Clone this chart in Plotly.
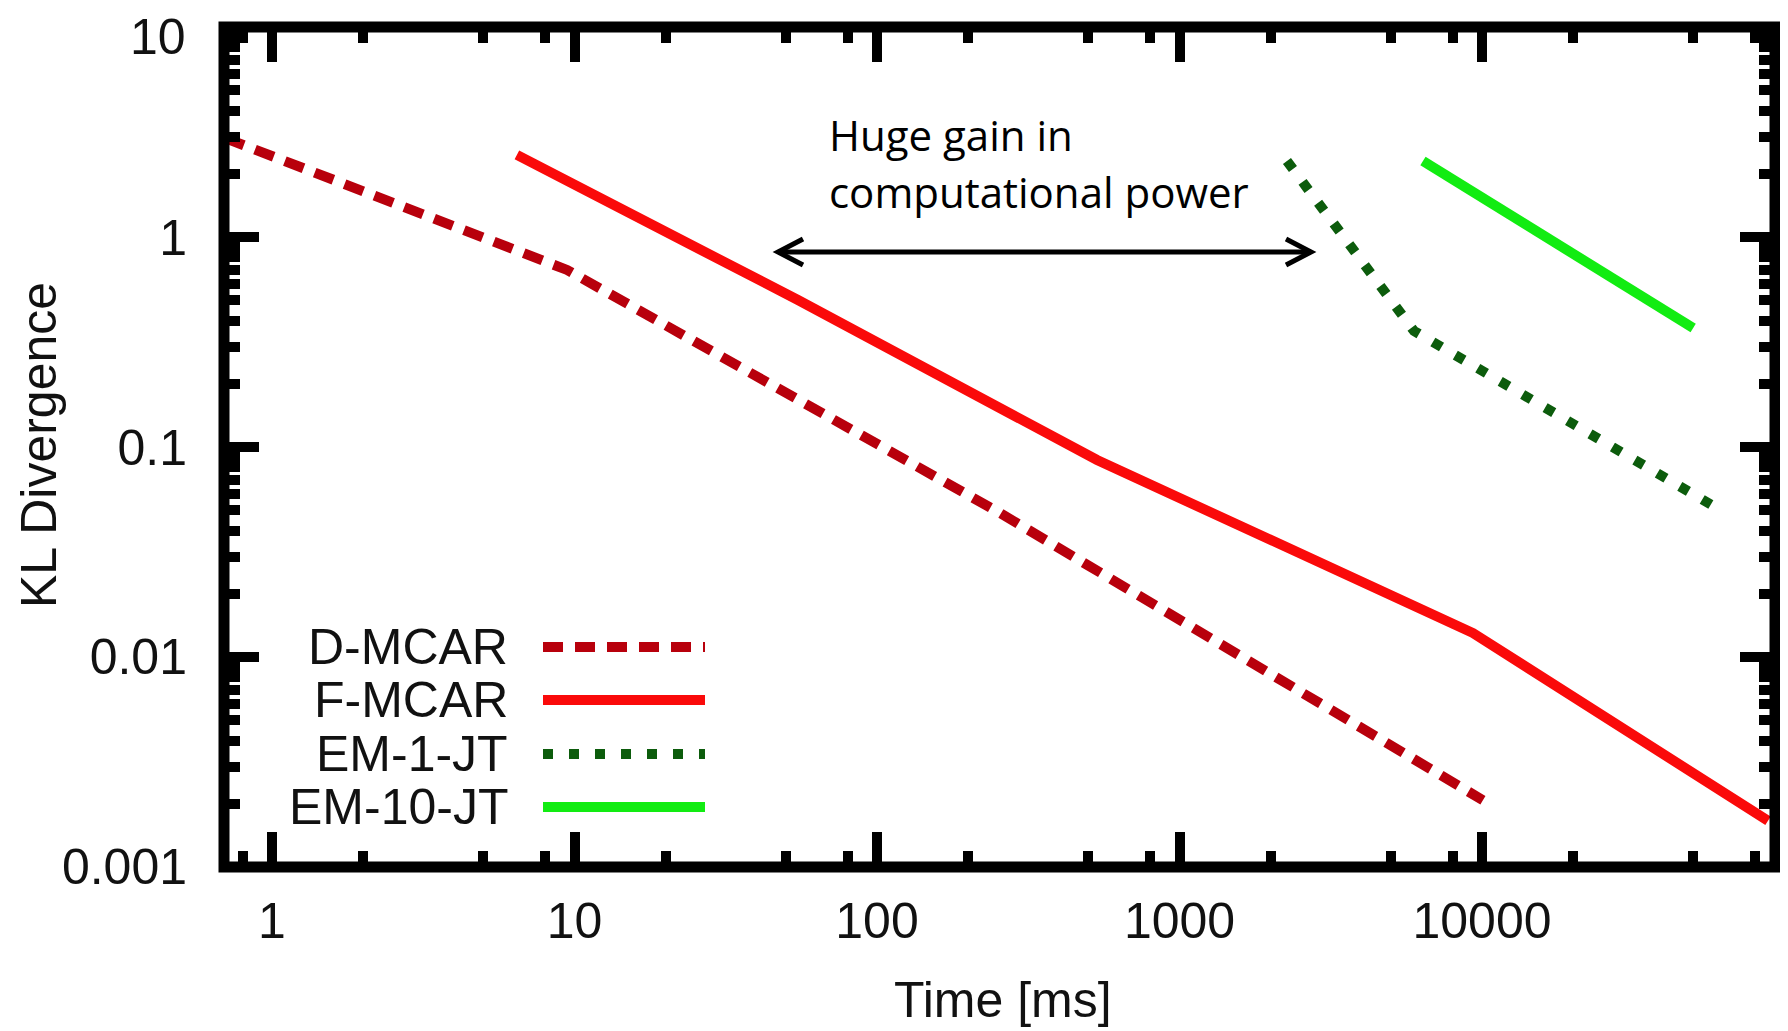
import plotly.graph_objects as go

# ---------------- data ----------------
d_mcar_t = [0.70, 9.45, 255, 10070]
d_mcar_kl = [2.96, 0.697, 0.0485, 0.00208]

f_mcar_t = [6.45, 54.8, 534, 9340, 88200]
f_mcar_kl = [2.46, 0.501, 0.0867, 0.0130, 0.00166]

em1_t = [2266, 5960, 62100]
em1_kl = [2.30, 0.357, 0.0496]

em10_t = [6380, 49900]
em10_kl = [2.30, 0.369]

x_tickvals = [1, 10, 100, 1000, 10000]
x_ticktext = ["1", "10", "100", "1000", "10000"]
y_tickvals = [0.001, 0.01, 0.1, 1, 10]
y_ticktext = ["0.001", "0.01", "0.1", "1", "10"]

x_minor = [m * 10 ** e for e in range(-1, 5) for m in (2, 5, 8) if 0.7 < m * 10 ** e < 93000]
y_minor = [m * 10 ** e for e in range(-3, 1) for m in range(2, 10)]

series_names = ["D-MCAR", "F-MCAR", "EM-1-JT", "EM-10-JT"]
series_colors = ["#b8000c", "#fa0a0a", "#0c5c0c", "#12ec12"]
series_dash = ["20px,12px", "solid", "10px,16px", "solid"]

# ---------------- geometry ----------------
OFF = 8                      # default body margin of the html page
W, H = 1788 - OFF, 1031 - OFF
L, R, T, B = 224, 1775, 27, 867   # plot frame in page pixels


def px(X):
    return (X - L) / (R - L)


def py(Y):
    return (B - Y) / (B - T)


fig = go.Figure()
series = [(d_mcar_t, d_mcar_kl), (f_mcar_t, f_mcar_kl), (em1_t, em1_kl), (em10_t, em10_kl)]
for (t, kl), name, col, dash in zip(series, series_names, series_colors, series_dash):
    fig.add_trace(go.Scatter(x=t, y=kl, mode="lines", name=name,
                             line=dict(color=col, width=10, dash=dash),
                             showlegend=False))

tickfont = dict(family="Liberation Sans, Arial, sans-serif", size=50, color="#111111")

# the top label ("10") sits at the very top edge: draw it as an annotation
# anchored to the top so that it is not clipped
y_axis_text = y_ticktext[:-1] + [""]

fig.update_xaxes(type="log", range=[-0.1587, 4.9686], automargin=False,
                 tickmode="array", tickvals=x_tickvals, ticktext=x_ticktext,
                 ticks="inside", ticklen=35, tickwidth=10, tickcolor="black",
                 mirror="ticks", showline=False, showgrid=False, zeroline=False,
                 tickfont=tickfont, ticklabelstandoff=20, ticklabeloverflow="allow",
                 minor=dict(tickmode="array", tickvals=x_minor, ticks="inside",
                            ticklen=16, tickwidth=10, tickcolor="black", showgrid=False))
fig.update_yaxes(type="log", range=[-3.0001, 1.0001], automargin=False,
                 tickmode="array", tickvals=y_tickvals, ticktext=y_axis_text,
                 ticks="inside", ticklen=35, tickwidth=10, tickcolor="black",
                 mirror="ticks", showline=False, showgrid=False, zeroline=False,
                 tickfont=tickfont, ticklabelstandoff=36, ticklabeloverflow="allow",
                 minor=dict(tickmode="array", tickvals=y_minor, ticks="inside",
                            ticklen=16, tickwidth=10, tickcolor="black", showgrid=False))

shapes = []
# border frame
shapes.append(dict(type="rect", xref="paper", yref="paper", x0=0, x1=1, y0=0, y1=1,
                   line=dict(color="black", width=11), layer="above"))

annotations = []
axis_font = dict(family="Liberation Sans, Arial, sans-serif", size=50, color="#111111")
annotations.append(dict(text=y_ticktext[-1], xref="paper", yref="paper",
                        x=px(187), y=py(OFF), xanchor="right", yanchor="top",
                        showarrow=False, borderpad=0, font=tickfont))
# axis titles
annotations.append(dict(text="KL Divergence", xref="paper", yref="paper",
                        x=px(39), y=py(445), textangle=-90, showarrow=False,
                        xanchor="center", yanchor="middle", font=axis_font))
annotations.append(dict(text="Time [ms]", xref="paper", yref="paper",
                        x=px(1003), y=py(1000), showarrow=False,
                        xanchor="center", yanchor="middle", font=axis_font))

# legend (text left, sample right, as in gnuplot)
leg_rows = [647, 700, 754, 807]
for name, col, dash, Y in zip(series_names, series_colors, series_dash, leg_rows):
    annotations.append(dict(text=name, xref="paper", yref="paper", x=px(510), y=py(Y),
                            xanchor="right", yanchor="middle", showarrow=False, font=axis_font))
    shapes.append(dict(type="line", xref="paper", yref="paper", x0=px(543), x1=px(705),
                       y0=py(Y), y1=py(Y), line=dict(color=col, width=10, dash=dash)))

# double-headed arrow
ay = 252
xl, xr = 778, 1311
shapes.append(dict(type="line", xref="paper", yref="paper", x0=px(xl + 2), x1=px(xr - 2),
                   y0=py(ay), y1=py(ay), line=dict(color="black", width=5)))
for tip, s in ((xl, 1), (xr, -1)):
    path = "M {:.5f},{:.5f} L {:.5f},{:.5f} L {:.5f},{:.5f}".format(
        px(tip + 25 * s), py(ay - 13), px(tip), py(ay), px(tip + 25 * s), py(ay + 13))
    shapes.append(dict(type="path", xref="paper", yref="paper", path=path,
                       line=dict(color="black", width=5)))

annot_font = dict(family="Open Sans, Lato, sans-serif", size=42, color="black")
annotations.append(dict(text="Huge gain in", xref="paper", yref="paper", x=px(827), y=py(135),
                        xanchor="left", yanchor="middle", showarrow=False, font=annot_font))
annotations.append(dict(text="computational power", xref="paper", yref="paper", x=px(827), y=py(192),
                        xanchor="left", yanchor="middle", showarrow=False, font=annot_font))

fig.update_layout(width=W, height=H,
                  margin=dict(l=L - OFF, r=W - (R - OFF), t=T - OFF, b=H - (B - OFF), pad=0),
                  paper_bgcolor="white", plot_bgcolor="white",
                  shapes=shapes, annotations=annotations, showlegend=False)

fig.write_html("out.html")
